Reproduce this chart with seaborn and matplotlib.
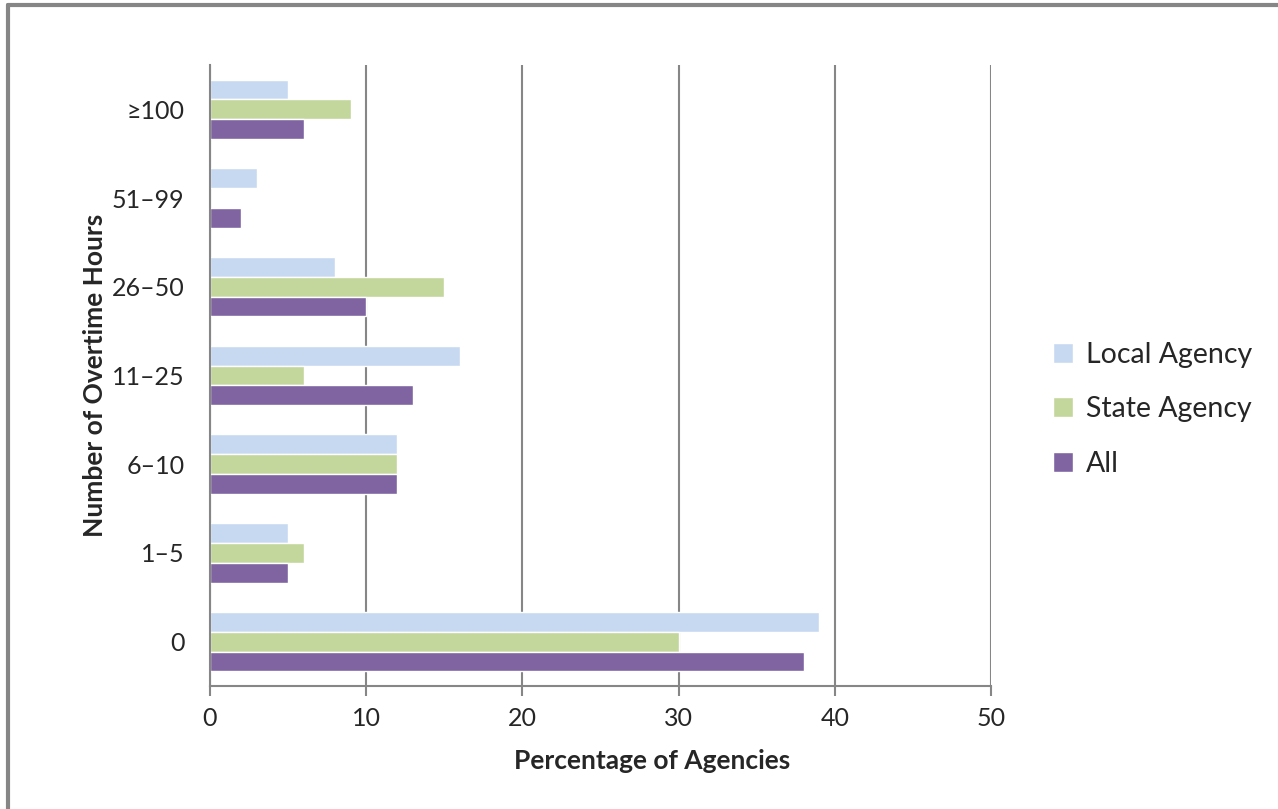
import pandas as pd
import matplotlib.pyplot as plt
from matplotlib.lines import Line2D
import seaborn as sns

# categories, top to bottom as in the chart
hours = ["≥100", "51–99", "26–50", "11–25", "6–10", "1–5", "0"]
local_agency = [5, 3, 8, 16, 12, 5, 39]
state_agency = [9, 0, 15, 6, 12, 6, 30]
all_agencies = [6, 2, 10, 13, 12, 5, 38]

groups = ["Local Agency", "State Agency", "All"]
colors = ["#C6D9F1", "#C3D69B", "#8064A2"]

df = pd.DataFrame({
    "hours": hours * 3,
    "pct": local_agency + state_agency + all_agencies,
    "group": [g for g in groups for _ in hours],
})

sns.set_style("white")
plt.rcParams['font.family'] = ['Lato', 'DejaVu Sans']

fig = plt.figure(figsize=(12.78, 8.09), dpi=100)
ax = fig.add_axes([0.1643, 0.152, 0.6111, 0.7677])

sns.barplot(data=df, x="pct", y="hours", hue="group", order=hours,
            hue_order=groups, palette=colors, width=0.67, orient="h",
            saturation=1, ax=ax, legend=True)

ax.set_xlim(0, 50)
ax.set_ylim(6.5, -0.5)
ax.set_xticks(range(0, 51, 10))
ax.grid(axis="x", color="#868686", linewidth=1.5)
ax.set_axisbelow(True)
for side in ["top", "right"]:
    ax.spines[side].set_visible(False)
for side in ["left", "bottom"]:
    ax.spines[side].set_color("#868686")
    ax.spines[side].set_linewidth(1.5)
ax.tick_params(axis="x", bottom=True, length=7, width=1.5, color="#868686",
               labelsize=18, pad=8)
ax.tick_params(axis="y", left=False, labelsize=18, pad=15)

ax.set_xlabel("Percentage of Agencies", fontsize=19, fontweight="bold")
ax.xaxis.set_label_coords(0.566, -0.102)
ax.set_ylabel("Number of Overtime Hours", fontsize=19, fontweight="bold", labelpad=3)

ax.legend(loc="center left", bbox_to_anchor=(0.804, 0.494),
          bbox_transform=fig.transFigure, frameon=False, fontsize=20.5,
          handlelength=0.7, handleheight=0.7, handletextpad=0.45,
          labelspacing=1.0)

# chart area border (left and top edges visible)
fig.add_artist(Line2D([0.0065, 0.0065], [0, 0.994], transform=fig.transFigure,
                      color="#868686", linewidth=3))
fig.add_artist(Line2D([0.0065, 1], [0.994, 0.994], transform=fig.transFigure,
                      color="#868686", linewidth=3))

fig.savefig("out.png", dpi=100)
